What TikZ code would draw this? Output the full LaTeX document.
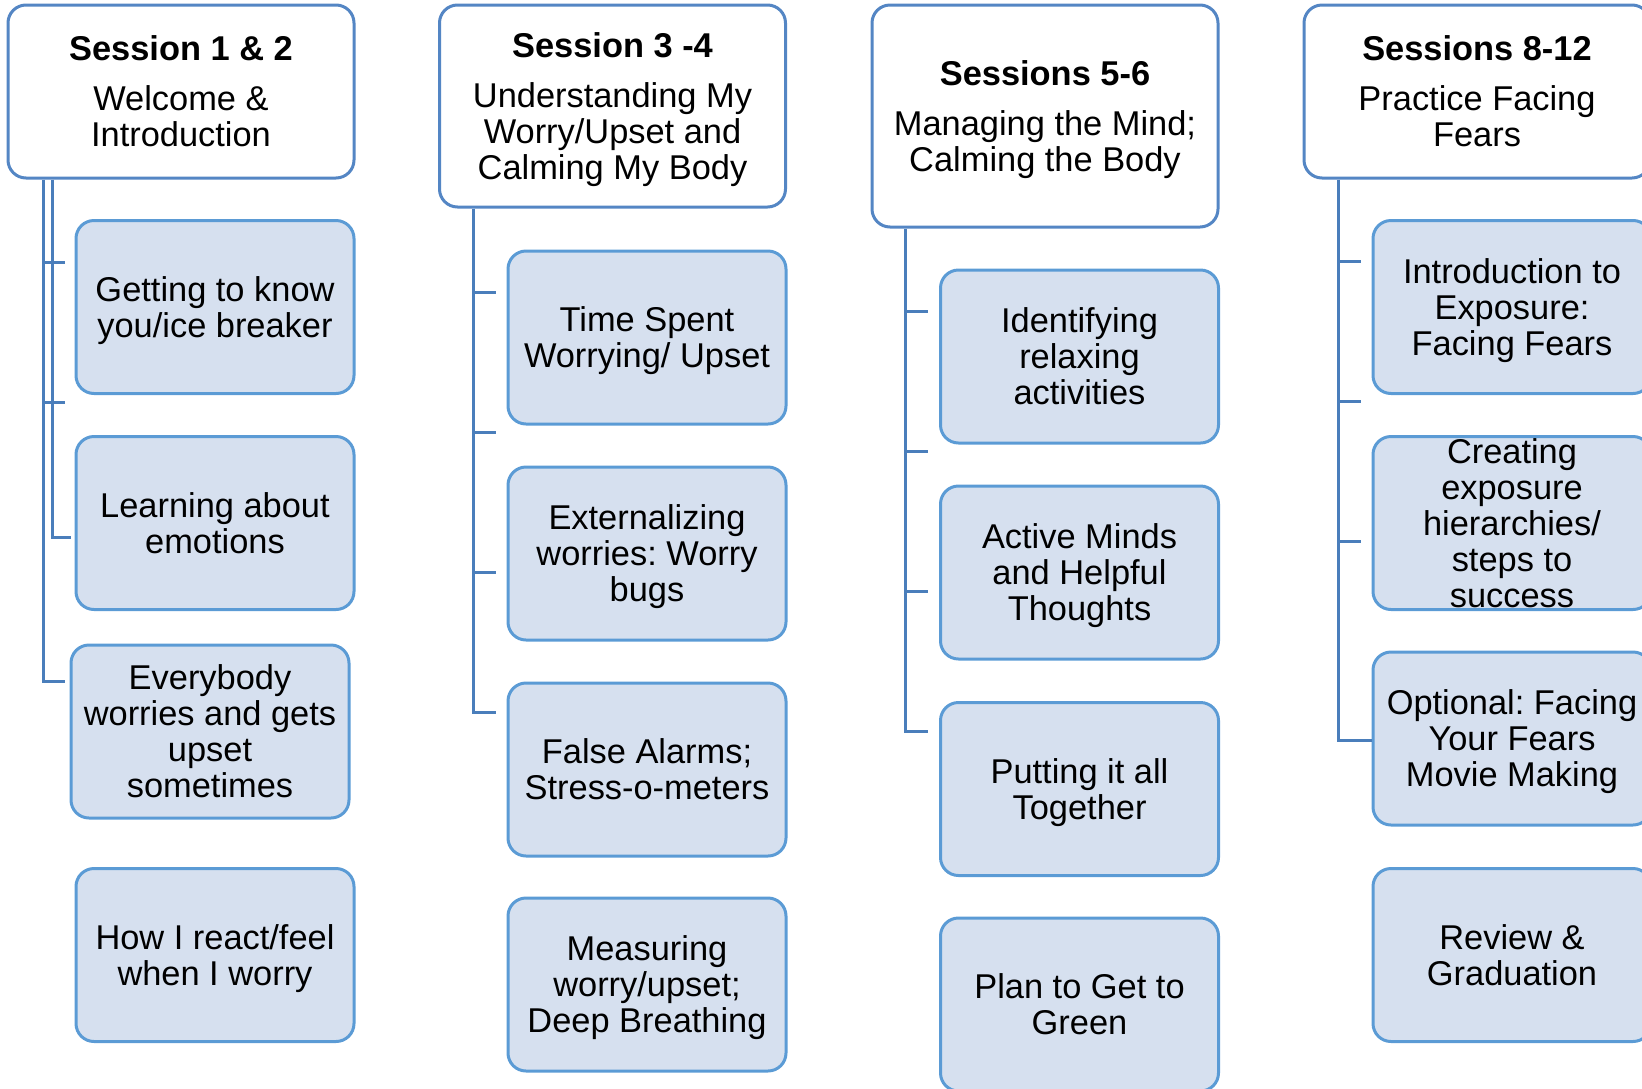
\documentclass[tikz,border=0pt]{standalone}
\usepackage{fontspec}
\setmainfont{Liberation Sans}
\definecolor{hdrline}{RGB}{84,134,196}
\definecolor{boxline}{RGB}{91,155,213}
\definecolor{boxfill}{RGB}{214,224,239}
\definecolor{conncol}{RGB}{74,126,187}
\newcommand\nodesc[1]{\raisebox{0pt}[\height][0pt]{#1}}
\frenchspacing
\begin{document}
\begin{tikzpicture}[x=1pt,y=-1pt,
  every node/.style={font=\fontsize{34.4}{36}\selectfont\frenchspacing, align=center, inner sep=0pt},
  hdr/.style={draw=hdrline, line width=3pt, rounded corners=18pt, fill=white, minimum width=346pt},
  item/.style={draw=boxline, line width=3pt, rounded corners=18pt, fill=boxfill, minimum width=278pt, minimum height=173pt},
  conn/.style={draw=conncol, line width=3pt}]
\useasboundingbox (0,0) rectangle (1642,1088);

% ---------- column 1
\node[hdr, minimum height=173pt] (h1) at (181,91.5) {\textbf{Session 1 \& 2}\\[14pt]Welcome \&\\Introduction};
\node[item] (b11) at (215,307) {Getting to know\\\nodesc{you/ice breaker}};
\node[item] (b12) at (215,523) {Learning about\\emotions};
\node[item] (b13) at (210,731.5) {Everybody\\worries and gets\\upset\\sometimes};
\node[item] (b14) at (215,955) {How I react/feel\\\nodesc{when I worry}};

% ---------- column 2
\node[hdr, minimum height=202pt] (h2) at (612.5,106) {\textbf{Session 3 -4}\\[14pt]Understanding My\\Worry/Upset and\\\nodesc{Calming My Body}};
\node[item] (b21) at (647,337.5) {Time Spent\\\nodesc{Worrying/ Upset}};
\node[item] (b22) at (647,553.5) {Externalizing\\worries: Worry\\\nodesc{bugs}};
\node[item] (b23) at (647,769.5) {False Alarms;\\Stress-o-meters};
\node[item] (b24) at (647,984.5) {Measuring\\worry/upset;\\\nodesc{Deep Breathing}};

% ---------- column 3
\node[hdr, minimum height=222pt] (h3) at (1045,116) {\textbf{Sessions 5-6}\\[14pt]Managing the Mind;\\\nodesc{Calming the Body}};
\node[item] (b31) at (1079.5,356.5) {Identifying\\relaxing\\activities};
\node[item] (b32) at (1079.5,572.5) {Active Minds\\and Helpful\\\nodesc{Thoughts}};
\node[item] (b33) at (1079.5,789) {Putting it all\\\nodesc{Together}};
\node[item] (b34) at (1079.5,1004.5) {Plan to Get to\\Green};

% ---------- column 4
\node[hdr, minimum height=173pt] (h4) at (1477,91.5) {\textbf{Sessions 8-12}\\[14pt]Practice Facing\\Fears};
\node[item] (b41) at (1512,307) {Introduction to\\Exposure:\\\nodesc{Facing Fears}};
\node[item] (b42) at (1512,523) {Creating\\exposure\\hierarchies/\\steps to\\success};
\node[item] (b43) at (1512,738.5) {Optional: Facing\\Your Fears\\\nodesc{Movie Making}};
\node[item] (b44) at (1512,955) {Review \&\\Graduation};

% ---------- connectors column 1
\coordinate (t1a) at (43,0);
\coordinate (t1b) at (52,0);
\coordinate (k11) at (65,262);
\coordinate (k12) at (65,402);
\coordinate (e1a) at (65,681);
\coordinate (e1b) at (71,537);
\draw[conn] (h1.south -| t1a) |- (e1a);
\draw[conn] (k11 -| t1a) -- (k11);
\draw[conn] (k12 -| t1a) -- (k12);
\draw[conn] (h1.south -| t1b) |- (e1b);

% ---------- connectors column 2
\coordinate (t2) at (473,0);
\coordinate (k21) at (496,292);
\coordinate (k22) at (496,432);
\coordinate (k23) at (496,572);
\coordinate (e2) at (496,712);
\draw[conn] (h2.south -| t2) |- (e2);
\draw[conn] (k21 -| t2) -- (k21);
\draw[conn] (k22 -| t2) -- (k22);
\draw[conn] (k23 -| t2) -- (k23);

% ---------- connectors column 3
\coordinate (t3) at (905,0);
\coordinate (k31) at (928,311);
\coordinate (k32) at (928,451);
\coordinate (k33) at (928,591);
\coordinate (e3) at (928,731);
\draw[conn] (h3.south -| t3) |- (e3);
\draw[conn] (k31 -| t3) -- (k31);
\draw[conn] (k32 -| t3) -- (k32);
\draw[conn] (k33 -| t3) -- (k33);

% ---------- connectors column 4
\coordinate (t4) at (1338,0);
\coordinate (k41) at (1361,261);
\coordinate (k42) at (1361,401);
\coordinate (k43) at (1361,541);
\coordinate (e4) at (0,740);
\draw[conn] (h4.south -| t4) |- (b43.west |- e4);
\draw[conn] (k41 -| t4) -- (k41);
\draw[conn] (k42 -| t4) -- (k42);
\draw[conn] (k43 -| t4) -- (k43);
\end{tikzpicture}
\end{document}
